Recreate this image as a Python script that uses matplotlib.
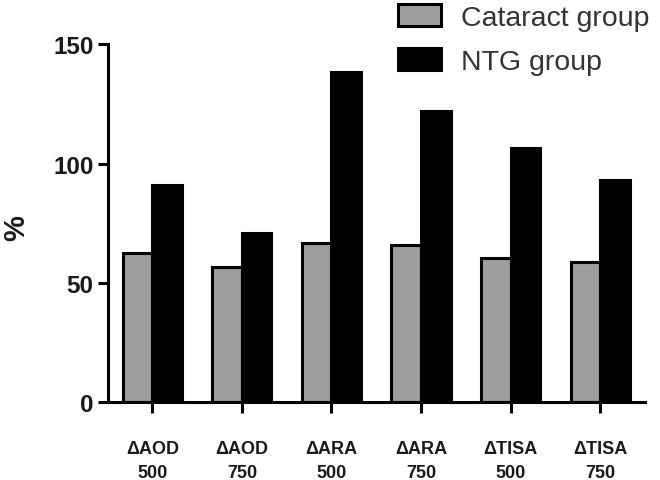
import matplotlib
matplotlib.use("Agg")
import matplotlib.pyplot as plt
import numpy as np

plt.rcParams['font.family'] = ['Liberation Sans', 'DejaVu Sans']

categories = ["\u0394AOD\n500", "\u0394AOD\n750", "\u0394ARA\n500", "\u0394ARA\n750", "\u0394TISA\n500", "\u0394TISA\n750"]
cataract = [62.5, 56.7, 66.6, 65.8, 60.2, 58.8]
ntg = [91.0, 70.8, 138.4, 121.8, 106.7, 93.1]
series_names = ["Cataract group", "NTG group"]
yticks = [0, 50, 100, 150]

fig = plt.figure(figsize=(6.6, 4.81), dpi=100)
ax = fig.add_axes([0.163, 0.162, 0.814, 0.744])

x = np.arange(len(categories))
w = 0.33
b1 = ax.bar(x - w / 2, cataract, w, color='#9e9e9e', edgecolor='black', linewidth=2.2, label=series_names[0])
b2 = ax.bar(x + w / 2, ntg, w, color='black', edgecolor='black', linewidth=2.2, label=series_names[1])

ax.set_xlim(-0.5, 5.5)
ax.set_ylim(0, 150)
ax.set_yticks(yticks)
ax.set_yticklabels([str(v) for v in yticks], fontsize=17.5, fontweight='bold', color='#1a1a1a')
ax.set_xticks(x)
ax.set_xticklabels(categories, fontsize=13, fontweight='bold', linespacing=1.6, color='#1a1a1a')

for s in ['top', 'right']:
    ax.spines[s].set_visible(False)
for s in ['left', 'bottom']:
    ax.spines[s].set_linewidth(2.2)
ax.tick_params(axis='y', length=7, width=2.2, pad=3)
ax.tick_params(axis='x', length=8, width=2.2, pad=19)

fig.text(16 / 660, 1 - 228 / 481, '%', rotation=90, fontsize=21, fontweight='bold',
         ha='center', va='center', color='#1a1a1a')

fig.legend(handles=[b1, b2], labels=series_names, loc='upper left',
           bbox_to_anchor=(398 / 660, 1 - 5 / 481), frameon=False,
           borderpad=0, borderaxespad=0,
           handlelength=1.5, handleheight=0.8, handletextpad=0.7, labelspacing=0.62,
           prop={'family': 'Liberation Sans', 'size': 20.5})
for t in fig.legends[0].get_texts():
    t.set_color('#333333')

fig.savefig('out.png', dpi=100)
